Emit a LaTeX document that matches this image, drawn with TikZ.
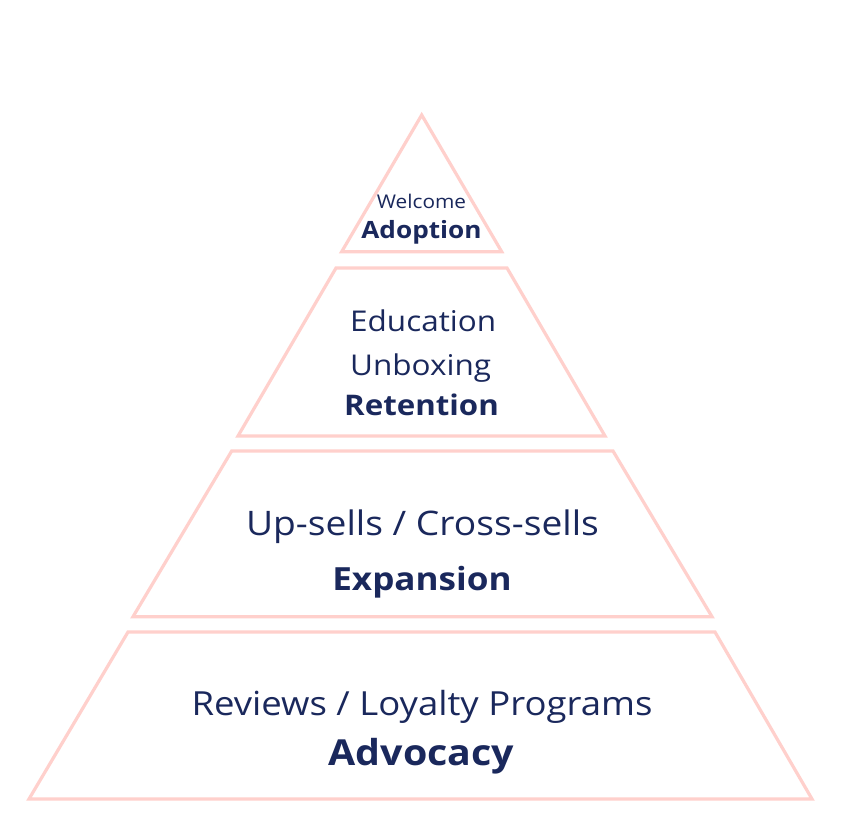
\documentclass[tikz,border=0pt]{standalone}
\usepackage{fontspec}
\setmainfont{Open Sans}[FakeStretch=1.1]
\definecolor{pinkline}{RGB}{255,208,204}
\definecolor{navy}{RGB}{26,40,92}
\begin{document}
\begin{tikzpicture}[x=1pt,y=-1pt,
  tier/.style={draw=pinkline,line width=3.2pt,line join=miter},
  lbl/.style={text=navy,inner sep=0pt,anchor=base},
  ttl/.style={text=navy,inner sep=0pt,anchor=base,font=\bfseries}]
\useasboundingbox (0,0) rectangle (844,838);
\fill[white] (0,0) rectangle (844,838);
% tiers
\draw[tier] (421.7,115) -- (501.7,251.7) -- (341.7,251.7) -- cycle;
\draw[tier] (336,268) -- (507,268) -- (605,436) -- (238,436) -- cycle;
\draw[tier] (231.7,451) -- (613,451) -- (712,616.7) -- (133,616.7) -- cycle;
\draw[tier] (128,632) -- (715,632) -- (812,799) -- (29,799) -- cycle;
% texts
\node[lbl,font=\fontsize{18.9}{22}\selectfont] (welcome) at (421.5,208) {Welcome};
\node[ttl,font=\fontsize{23.8}{28}\selectfont\bfseries] (adoption) at (421.5,238.3) {Adoption};
\node[lbl,anchor=base west,font=\fontsize{28.6}{32}\selectfont] (education) at (350,331.7) {Education};
\node[lbl,anchor=base west,font=\fontsize{28.6}{32}\selectfont] (unboxing) at (350,375) {Unboxing};
\node[ttl,font=\fontsize{28.4}{32}\selectfont\bfseries] (retention) at (421.5,415) {Retention};
\node[lbl,font=\fontsize{33.8}{38}\selectfont] (upsells) at (422.5,535) {Up-sells / Cross-sells};
\node[ttl,font=\fontsize{31.9}{36}\selectfont\bfseries] (expansion) at (422,590) {Expansion};
\node[lbl,font=\fontsize{33.2}{38}\selectfont] (reviews) at (422,715) {Reviews / Loyalty Programs};
\node[ttl,font=\fontsize{35.8}{40}\selectfont\bfseries] (advocacy) at (421.5,765) {Advocacy};
\end{tikzpicture}
\end{document}
